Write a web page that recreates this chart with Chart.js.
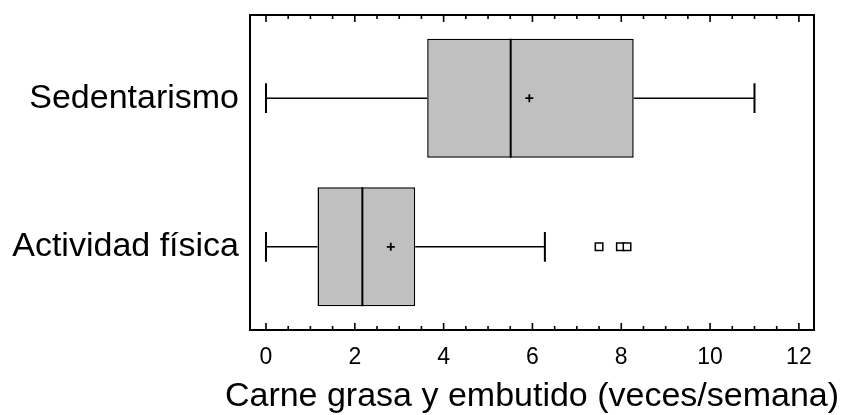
<!DOCTYPE html>
<html lang="es">
<head>
<meta charset="utf-8">
<title>Carne grasa y embutido</title>
<script src="https://cdn.jsdelivr.net/npm/chart.js@4.4.1/dist/chart.umd.min.js"></script>
<style>
  html, body { margin: 0; padding: 0; background: #fff; }
  #plot { display: block; }
</style>
</head>
<body>
<canvas id="plot" width="847" height="415"></canvas>
<script>
  const categories = ['Actividad física', 'Sedentarismo'];
  const whiskerLow = [0, 0];
  const q1 = [1.16, 3.63];
  const median = [2.17, 5.51];
  const q3 = [3.36, 8.28];
  const whiskerHigh = [6.28, 11];
  const means = [2.81, 5.93];
  const outliers = [[7.5, 7.98, 8.13], []];
  const xTickLabels = [0, 2, 4, 6, 8, 10, 12];
  const xTitle = 'Carne grasa y embutido (veces/semana)';

  const FONT = "'Liberation Sans', Arial, sans-serif";
  const BOX_HALF = 0.4;   // half the box height, in row units
  const CAP_HALF = 0.1;
  const MINOR_STEP = 0.5;

  const rowOf = i => i + 1;
  const gap = { x: null, y: null };

  // list of [from, to] point pairs -> one line dataset with breaks
  function segments(pairs) {
    return pairs.flatMap(([a, b]) => [a, b, gap]);
  }

  const boxData = categories.map((_, i) => ({ y: rowOf(i), x: [q1[i], q3[i]] }));

  const whiskerData = segments(categories.flatMap((_, i) => [
    [{ x: whiskerLow[i], y: rowOf(i) }, { x: q1[i], y: rowOf(i) }],
    [{ x: q3[i], y: rowOf(i) }, { x: whiskerHigh[i], y: rowOf(i) }]
  ]));

  const capData = segments(categories.flatMap((_, i) =>
    [whiskerLow[i], whiskerHigh[i]].map(v => [
      { x: v, y: rowOf(i) - CAP_HALF },
      { x: v, y: rowOf(i) + CAP_HALF }
    ])
  ));

  const medianData = segments(categories.map((_, i) => [
    { x: median[i], y: rowOf(i) - BOX_HALF },
    { x: median[i], y: rowOf(i) + BOX_HALF }
  ]));

  const meanData = categories.map((_, i) => ({ x: means[i], y: rowOf(i) }));
  const outlierData = outliers.flatMap((list, i) => list.map(v => ({ x: v, y: rowOf(i) })));

  function lineSet(data, width, order) {
    return {
      type: 'scatter',
      data,
      showLine: true,
      spanGaps: false,
      borderColor: '#000',
      borderWidth: width,
      pointRadius: 0,
      pointHoverRadius: 0,
      tension: 0,
      order
    };
  }

  // closed frame with inward ticks on top and bottom edges
  const frameTicks = {
    id: 'frameTicks',
    afterDatasetsDraw(chart) {
      const { ctx, chartArea: a, scales: { x } } = chart;
      const first = xTickLabels[0];
      const last = xTickLabels[xTickLabels.length - 1];
      ctx.save();
      ctx.strokeStyle = '#000';
      ctx.lineWidth = 2;
      ctx.strokeRect(a.left, a.top, a.right - a.left, a.bottom - a.top);
      ctx.lineWidth = 1.6;
      ctx.beginPath();
      for (let v = first; v <= last + 1e-9; v += MINOR_STEP) {
        const px = x.getPixelForValue(v);
        const len = xTickLabels.includes(v) ? 7 : 4;
        ctx.moveTo(px, a.top);
        ctx.lineTo(px, a.top + len);
        ctx.moveTo(px, a.bottom);
        ctx.lineTo(px, a.bottom - len);
      }
      ctx.stroke();
      ctx.restore();
    }
  };

  // x axis title, centred under the axis and allowed to run past its ends
  const axisTitle = {
    id: 'axisTitle',
    afterDraw(chart) {
      const { ctx, scales: { x } } = chart;
      ctx.save();
      ctx.fillStyle = '#000';
      ctx.font = `34px ${FONT}`;
      ctx.textAlign = 'center';
      ctx.textBaseline = 'alphabetic';
      ctx.fillText(xTitle, (x.left + x.right) / 2, x.bottom - 9);
      ctx.restore();
    }
  };

  new Chart(document.getElementById('plot'), {
    type: 'bar',
    data: {
      datasets: [
        {
          data: boxData,
          backgroundColor: '#c0c0c0',
          borderColor: '#000',
          borderWidth: 1.5,
          borderSkipped: false,
          categoryPercentage: 1,
          barPercentage: BOX_HALF * 2,
          order: 5
        },
        lineSet(whiskerData, 1.5, 4),
        lineSet(capData, 2, 3),
        lineSet(medianData, 2, 2),
        {
          type: 'scatter',
          data: meanData,
          pointStyle: 'cross',
          pointRadius: 4,
          pointBorderWidth: 1.8,
          borderColor: '#000',
          order: 1
        },
        {
          type: 'scatter',
          data: outlierData,
          pointStyle: 'rect',
          pointRadius: 5.3,
          pointBorderWidth: 1.5,
          borderColor: '#000',
          backgroundColor: '#fff',
          order: 1
        }
      ]
    },
    options: {
      indexAxis: 'y',
      responsive: false,
      animation: false,
      events: [],
      layout: { padding: { top: 15, right: 33, bottom: 0, left: 0 } },
      plugins: { legend: { display: false }, tooltip: { enabled: false } },
      scales: {
        x: {
          type: 'linear',
          min: -0.36,
          max: 12.34,
          offset: false,
          grid: { display: false, drawTicks: false, offset: false },
          border: { display: false },
          afterBuildTicks: s => { s.ticks = xTickLabels.map(v => ({ value: v })); },
          afterFit: s => {
            s.height = 85;
            s.paddingLeft = 0;
            s.paddingRight = 0;
          },
          ticks: {
            autoSkip: false,
            maxRotation: 0,
            padding: 14,
            color: '#000',
            font: { family: FONT, size: 23 },
            callback: v => String(v)
          }
        },
        y: {
          type: 'linear',
          min: 0.44,
          max: 2.56,
          offset: false,
          grid: { display: false, drawTicks: false, offset: false },
          border: { display: false },
          afterBuildTicks: s => { s.ticks = categories.map((_, i) => ({ value: rowOf(i) })); },
          afterFit: s => {
            s.width = 250;
            s.paddingTop = 0;
            s.paddingBottom = 0;
          },
          ticks: {
            padding: 11,
            color: '#000',
            font: { family: FONT, size: 34 },
            callback: v => categories[Math.round(v) - 1]
          }
        }
      }
    },
    plugins: [frameTicks, axisTitle]
  });
</script>
</body>
</html>
